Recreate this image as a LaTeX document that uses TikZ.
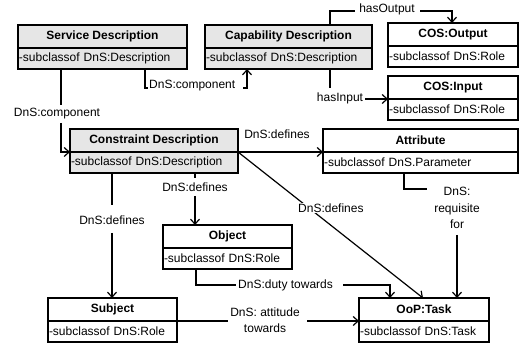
\documentclass[tikz,border=0pt]{standalone}
\usepackage{fontspec}
\setmainfont{Liberation Sans}
\usetikzlibrary{arrows.meta,calc}
\definecolor{boxgray}{HTML}{E6E6E6}
\newcommand\umlbox[7]{% name, x, y, width, title, body, fill
  \node[titlebox, fill=#7, minimum width=#4pt] (#1) at (#2,#3) {#5};
  \pgfmathsetmacro\umlbw{#4-2}
  \node[bodybox, fill=#7, text width=\umlbw pt] (#1b) at (#1.south west) {#6};
}
\begin{document}
\begin{tikzpicture}[x=1pt,y=-1pt,
  font=\fontsize{12}{13}\selectfont,
  titlebox/.style={draw, line width=1.3pt, font=\fontsize{12}{13}\selectfont\bfseries,
    anchor=north west, inner sep=0pt, outer sep=0pt, minimum height=23pt},
  bodybox/.style={draw, line width=1.3pt, anchor=north west, inner xsep=1pt,
    inner ysep=0pt, outer sep=0pt, minimum height=21pt, align=left},
  conn/.style={line width=1.2pt},
  arr/.style={conn, -{Straight Barb[length=5pt,width=9pt,line width=1.2pt]}},
  lbl/.style={inner sep=1pt, align=center, font=\fontsize{12}{16.5}\selectfont}]
\useasboundingbox (0,0) rectangle (522,347);

\umlbox{sd}{18}{25}{169}{Service Description}{-subclassof DnS:Description}{boxgray}
\umlbox{cd}{205}{25}{167}{Capability Description}{-subclassof DnS:Description}{boxgray}
\umlbox{co}{388}{23}{130}{COS:Output}{-subclassof DnS:Role}{white}
\umlbox{ci}{388}{76}{130}{COS:Input}{-subclassof DnS:Role}{white}
\umlbox{ct}{70}{129}{168}{Constraint Description}{-subclassof DnS:Description}{boxgray}
\umlbox{at}{323}{129}{195}{Attribute}{-subclassof DnS.Parameter}{white}
\umlbox{ob}{163}{225}{129}{Object}{-subclassof DnS:Role}{white}
\umlbox{su}{48}{298}{129}{Subject}{-subclassof DnS:Role}{white}
\umlbox{ta}{359}{298}{130}{OoP:Task}{-subclassof DnS:Task}{white}

% Service -> Capability
\coordinate (p1) at (145,88);
\coordinate (p2) at (243,88);
\coordinate (p3) at (247,88);
\draw[conn] (sdb.south -| p1) -- (p1) -- ++(3,0);
\node[lbl, anchor=west] (l1) at (148,86) {DnS:component};
\draw[arr] (p2) -| (cdb.south -| p3);

% Service -> Constraint
\coordinate (q1) at (61,105);
\coordinate (q2) at (61,123);
\draw[conn] (sdb.south -| q1) -- (q1);
\node[lbl] (l2) at (57,114) {DnS:component};
\draw[arr] (q2) |- (ct.south west);

% Capability -> Output
\coordinate (r1) at (330,11);
\coordinate (r2) at (355,11);
\coordinate (r3) at (420,11);
\draw[conn] (cd.north -| r1) -- (r1) -- (r2);
\node[lbl] (l3) at (387,9) {hasOutput};
\draw[arr] (r3) -| (co.north -| 452,0);

% Capability -> Input
\coordinate (s1) at (330,88);
\coordinate (s2) at (365,99);
\draw[conn] (cdb.south -| s1) -- (s1);
\node[lbl] (l4) at (340,98) {hasInput};
\draw[arr] (s2) -- (ci.south west);

% Constraint -> Attribute
\draw[arr] (ct.south east) -- (ct.south east -| at.west);
\node[lbl] (l5) at (277,134) {DnS:defines};

% Constraint -> Task (diagonal)
\coordinate (t1) at (423,298);
\draw[arr] (ct.south east) -- (t1);
\node[lbl, fill=white, anchor=west] (l6) at (297,208) {DnS:defines};

% Constraint -> Object
\coordinate (u1) at (195,178);
\coordinate (u2) at (195,196);
\draw[conn] (ctb.south -| u1) -- (u1);
\node[lbl] (l7) at (195,187) {DnS:defines};
\draw[arr] (u2) -- (ob.north -| u2);

% Constraint -> Subject
\coordinate (v1) at (112,205);
\coordinate (v2) at (112,233);
\draw[conn] (ctb.south -| v1) -- (v1);
\node[lbl] (l8) at (112,220) {DnS:defines};
\draw[arr] (v2) -- (su.north -| v2);

% Object -> Task
\coordinate (w1) at (196,285);
\coordinate (w2) at (236,285);
\coordinate (w3) at (343,285);
\coordinate (w4) at (390,298);
\draw[conn] (obb.south -| w1) -- (w1) -- (w2);
\node[lbl, anchor=west] (l9) at (237,285) {DnS:duty towards};
\draw[arr] (w3) -| (w4);

% Subject -> Task
\coordinate (x1) at (228,321);
\coordinate (x2) at (307,321);
\draw[conn] (su.south east) -- (x1);
\node[lbl] (l10) at (265,320) {DnS: attitude\\towards};
\draw[arr] (x2) -- (ta.south west);

% Attribute -> Task
\coordinate (y1) at (404,189);
\coordinate (y2) at (427,189);
\coordinate (y3) at (457,235);
\draw[conn] (atb.south -| y1) -- (y1) -- (y2);
\node[lbl] (l11) at (457,208) {DnS:\\requisite\\for};
\draw[arr] (y3) -- (ta.north -| y3);
\end{tikzpicture}
\end{document}
